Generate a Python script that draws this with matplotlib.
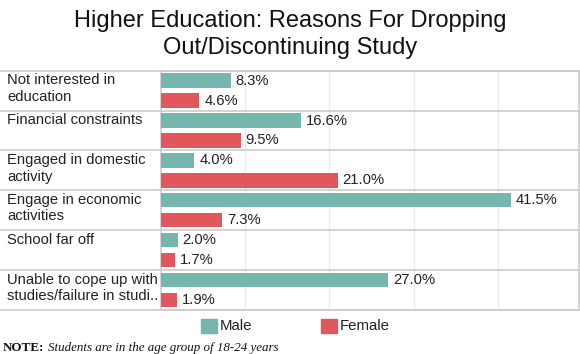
import matplotlib.pyplot as plt
from matplotlib.transforms import blended_transform_factory
from matplotlib.patches import Rectangle

categories = ["Not interested in\neducation", "Financial constraints",
              "Engaged in domestic\nactivity", "Engage in economic\nactivities",
              "School far off", "Unable to cope up with\nstudies/failure in studi.."]
male = [8.3, 16.6, 4.0, 41.5, 2.0, 27.0]
female = [4.6, 9.5, 21.0, 7.3, 1.7, 1.9]
series_names = ["Male", "Female"]

MALE_C = '#77b6ae'
FEMALE_C = '#e0585b'
LINE_C = '#cccccc'
W, H = 580, 354

plt.rcParams['font.family'] = ['Liberation Sans', 'DejaVu Sans']
fig = plt.figure(figsize=(W / 100, H / 100), dpi=100)
ax = fig.add_axes([160.7 / W, 1 - 310 / H, 418.3 / W, 239.3 / H])

ys = list(range(len(categories)))
bh = 0.36
ax.barh([y - 0.25 for y in ys], male, height=bh, color=MALE_C, zorder=3)
ax.barh([y + 0.25 for y in ys], female, height=bh, color=FEMALE_C, zorder=3)

ax.set_xlim(0, 49.6)
ax.set_ylim(len(categories) - 0.5, -0.5)
ax.set_xticks([10, 20, 30, 40])
ax.set_yticks([])
ax.tick_params(axis='x', length=0, labelbottom=False)
ax.grid(axis='x', color='#ebebeb', lw=1, zorder=0)
for s in ax.spines.values():
    s.set_color(LINE_C)
    s.set_linewidth(1.2)

# value labels
for y, m, f in zip(ys, male, female):
    ax.annotate(f"{m:.1f}%", (m, y - 0.25), xytext=(3.5, 0), textcoords='offset points',
                va='center', ha='left', fontsize=10.6, color='#222222')
    ax.annotate(f"{f:.1f}%", (f, y + 0.25), xytext=(3.5, 0), textcoords='offset points',
                va='center', ha='left', fontsize=10.6, color='#222222')

# category separators running through the label area
x0 = -160.7 / 418.3
for k in range(len(categories) + 1):
    ax.axhline(k - 0.5, xmin=x0, xmax=1, color=LINE_C, lw=1.2, clip_on=False, zorder=4)

# category labels, top-aligned in each band
tr = blended_transform_factory(fig.transFigure, ax.transData)
for y, lab in zip(ys, categories):
    ax.text(7 / W, y - 0.5 + 0.06, lab, transform=tr, ha='left', va='top',
            fontsize=10.6, linespacing=1.25, color='#222222')

fig.text(0.5, 1 - 10 / H, "Higher Education: Reasons For Dropping\nOut/Discontinuing Study",
         ha='center', va='top', fontsize=17, linespacing=1.3, color='#111111')

# legend
for (xs, name, c) in [(201, series_names[0], MALE_C), (321, series_names[1], FEMALE_C)]:
    fig.patches.append(Rectangle((xs / W, 1 - 333 / H), 16 / W, 14 / H,
                                 transform=fig.transFigure, color=c))
    fig.text((xs + 19) / W, 1 - 326 / H, name, ha='left', va='center',
             fontsize=10.8, color='#222222')

fig.text(3 / W, 1 - 348 / H, "NOTE:", ha='left', va='center', fontsize=9.4,
         family='Liberation Serif', weight='bold', color='#111111')
fig.text(48 / W, 1 - 348 / H, "Students are in the age group of 18-24 years", ha='left',
         va='center', fontsize=9.4, family='Liberation Serif', style='italic', color='#111111')

fig.savefig('out.png', dpi=100)
